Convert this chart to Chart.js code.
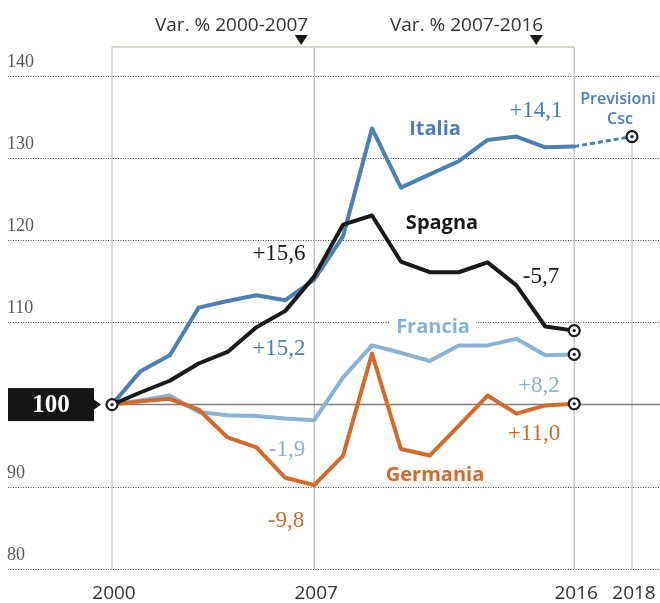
<!DOCTYPE html>
<html>
<head>
<meta charset="utf-8">
<script src="https://cdn.jsdelivr.net/npm/chart.js@4.4.1/dist/chart.umd.min.js"></script>
<style>
  html, body { margin: 0; padding: 0; background: #fff; }
  canvas { display: block; }
</style>
</head>
<body>
<canvas id="chart" width="660" height="603"></canvas>
<script>
// Index 2000 = 100
const years = [2000, 2001, 2002, 2003, 2004, 2005, 2006, 2007, 2008, 2009, 2010, 2011, 2012, 2013, 2014, 2015, 2016];
const italia   = [100, 104.1, 106.0, 111.8, 112.6, 113.3, 112.7, 115.2, 120.5, 133.6, 126.4, 128.0, 129.6, 132.2, 132.6, 131.3, 131.4];
const spagna   = [100, 101.5, 102.9, 105.0, 106.4, 109.4, 111.4, 115.6, 121.9, 123.0, 117.4, 116.1, 116.1, 117.3, 114.5, 109.5, 109.0];
const francia  = [100, 100.5, 101.1, 99.1, 98.7, 98.6, 98.3, 98.1, 103.3, 107.2, 106.3, 105.3, 107.2, 107.2, 108.0, 106.0, 106.1];
const germania = [100, 100.4, 100.7, 99.4, 96.0, 94.8, 91.1, 90.2, 93.8, 106.2, 94.6, 93.8, 97.4, 101.1, 98.9, 99.9, 100.1];

// Previsioni Csc (Italia)
const forecastYears = [2016, 2017, 2018];
const italiaForecast = [131.4, 132.0, 132.6];

const yTicks = [80, 90, 100, 110, 120, 130, 140];
const xTicks = [2000, 2007, 2016, 2018];
const periodYears = [2000, 2007, 2016];
const periodTitles = ['Var. % 2000-2007', 'Var. % 2007-2016'];
const baseValue = 100;

const COLORS = {
  italia: '#4a80b4',
  spagna: '#1a1a1a',
  francia: '#88b2d6',
  germania: '#d4692c'
};

const toPoints = (xs, ys) => xs.map((yr, i) => ({ x: yr, y: ys[i] }));
const lastPoint = (ys) => ({ x: years[years.length - 1], y: ys[ys.length - 1] });

// Text annotations (pixel layout)
const annotations = [
  { text: '+15,6', x: 279, y: 254, color: COLORS.spagna, font: '23px "Liberation Serif"' },
  { text: '+15,2', x: 279, y: 349, color: COLORS.italia, font: '23px "Liberation Serif"' },
  { text: '-1,9', x: 287, y: 450, color: COLORS.francia, font: '23px "Liberation Serif"' },
  { text: '-9,8', x: 286, y: 521, color: COLORS.germania, font: '23px "Liberation Serif"' },
  { text: '+14,1', x: 536, y: 111, color: COLORS.italia, font: '23px "Liberation Serif"' },
  { text: '-5,7', x: 541, y: 277, color: COLORS.spagna, font: '23px "Liberation Serif"' },
  { text: '+8,2', x: 539, y: 386, color: COLORS.francia, font: '23px "Liberation Serif"' },
  { text: '+11,0', x: 534, y: 434, color: COLORS.germania, font: '23px "Liberation Serif"' },
  { text: 'Italia', x: 435, y: 129, color: COLORS.italia, font: 'bold 20px "Open Sans"' },
  { text: 'Spagna', x: 442, y: 223, color: COLORS.spagna, font: 'bold 20px "Open Sans"' },
  { text: 'Francia', x: 433, y: 327, color: COLORS.francia, font: 'bold 20px "Open Sans"', bg: true },
  { text: 'Germania', x: 435, y: 475, color: COLORS.germania, font: 'bold 20px "Open Sans"' },
  { text: 'Previsioni', x: 618, y: 99, color: COLORS.italia, font: '600 16px "Open Sans"' },
  { text: 'Csc', x: 620, y: 119, color: COLORS.italia, font: '600 16px "Open Sans"' }
];

function drawMarker(ctx, px, py) {
  ctx.beginPath();
  ctx.arc(px, py, 5.5, 0, Math.PI * 2);
  ctx.fillStyle = '#fff';
  ctx.fill();
  ctx.lineWidth = 2.2;
  ctx.strokeStyle = '#1a1a1a';
  ctx.stroke();
  ctx.beginPath();
  ctx.arc(px, py, 1.6, 0, Math.PI * 2);
  ctx.fillStyle = '#1a1a1a';
  ctx.fill();
}

const decorPlugin = {
  id: 'decor',
  beforeDatasetsDraw(chart) {
    const { ctx, chartArea, scales: { x, y } } = chart;
    const W = chart.width;
    ctx.save();

    // dotted horizontal grid
    ctx.strokeStyle = '#444';
    ctx.lineWidth = 1;
    ctx.setLineDash([1, 1.5]);
    yTicks.forEach(v => {
      if (v === baseValue) return;
      const py = Math.round(y.getPixelForValue(v)) + 0.5;
      ctx.beginPath();
      ctx.moveTo(8, py);
      ctx.lineTo(W, py);
      ctx.stroke();
    });
    ctx.setLineDash([]);

    // y tick labels
    ctx.font = '18px "Liberation Serif"';
    ctx.fillStyle = '#5a5a5a';
    ctx.textAlign = 'left';
    ctx.textBaseline = 'alphabetic';
    yTicks.forEach(v => {
      if (v === baseValue) return;
      ctx.fillText(String(v), 7, y.getPixelForValue(v) - 9);
    });

    // period frame
    const top = chartArea.top;
    const bottom = y.getPixelForValue(yTicks[0]);
    ctx.strokeStyle = '#cdc8ba';
    ctx.lineWidth = 1.5;
    periodYears.forEach(yr => {
      const px = x.getPixelForValue(yr);
      ctx.beginPath();
      ctx.moveTo(px, top);
      ctx.lineTo(px, bottom);
      ctx.stroke();
    });
    ctx.beginPath();
    ctx.moveTo(x.getPixelForValue(periodYears[0]), top);
    ctx.lineTo(x.getPixelForValue(periodYears[2]), top);
    ctx.stroke();
    const fx = x.getPixelForValue(forecastYears[forecastYears.length - 1]);
    ctx.beginPath();
    ctx.moveTo(fx, y.getPixelForValue(italiaForecast[italiaForecast.length - 1]));
    ctx.lineTo(fx, bottom);
    ctx.stroke();

    // base 100 line
    const by = y.getPixelForValue(baseValue);
    ctx.strokeStyle = '#7d7d7d';
    ctx.lineWidth = 1.5;
    ctx.beginPath();
    ctx.moveTo(x.getPixelForValue(years[0]), by);
    ctx.lineTo(W, by);
    ctx.stroke();

    // white backgrounds behind labels that sit on grid lines
    annotations.filter(a => a.bg).forEach(a => {
      ctx.font = a.font;
      const w = ctx.measureText(a.text).width;
      ctx.fillStyle = '#fff';
      ctx.fillRect(a.x - w / 2 - 6, a.y - 10, w + 12, 20);
    });
    ctx.restore();
  },
  afterDatasetsDraw(chart) {
    const { ctx, scales: { x, y } } = chart;
    ctx.save();

    // annotations
    ctx.textAlign = 'center';
    ctx.textBaseline = 'middle';
    annotations.forEach(a => {
      ctx.font = a.font;
      ctx.fillStyle = a.color;
      ctx.fillText(a.text, a.x, a.y);
    });

    // period titles with triangles
    ctx.font = '19px "Open Sans"';
    ctx.fillStyle = '#333';
    ctx.textAlign = 'right';
    ctx.textBaseline = 'alphabetic';
    const titleRight = [x.getPixelForValue(periodYears[1]) - 6, x.getPixelForValue(periodYears[2]) - 31];
    periodTitles.forEach((t, i) => {
      ctx.fillText(t, titleRight[i], 31);
      const cx = titleRight[i] - 7;
      ctx.beginPath();
      ctx.moveTo(cx - 6.5, 35);
      ctx.lineTo(cx + 6.5, 35);
      ctx.lineTo(cx, 45);
      ctx.closePath();
      ctx.fillStyle = '#1a1a1a';
      ctx.fill();
      ctx.fillStyle = '#333';
    });

    // x tick labels
    ctx.font = '19px "Open Sans"';
    ctx.fillStyle = '#333';
    ctx.textAlign = 'center';
    xTicks.forEach(yr => {
      ctx.fillText(String(yr), x.getPixelForValue(yr) + 2, 599);
    });

    // end markers
    const sx = x.getPixelForValue(years[0]);
    const sy = y.getPixelForValue(baseValue);
    [spagna, francia, germania].forEach(s => {
      const p = lastPoint(s);
      drawMarker(ctx, x.getPixelForValue(p.x), y.getPixelForValue(p.y));
    });
    drawMarker(ctx, x.getPixelForValue(forecastYears[forecastYears.length - 1]),
      y.getPixelForValue(italiaForecast[italiaForecast.length - 1]));

    // 100 box
    ctx.fillStyle = '#161616';
    ctx.fillRect(8, sy - 16.5, 86, 33);
    ctx.beginPath();
    ctx.moveTo(94, sy - 5);
    ctx.lineTo(101, sy);
    ctx.lineTo(94, sy + 5);
    ctx.closePath();
    ctx.fill();
    ctx.fillStyle = '#fff';
    ctx.font = 'bold 25px "Liberation Serif"';
    ctx.textAlign = 'center';
    ctx.textBaseline = 'middle';
    ctx.fillText(String(baseValue), 51, sy + 1);
    drawMarker(ctx, sx, sy);

    ctx.restore();
  }
};

const lineDefaults = {
  borderWidth: 4,
  pointRadius: 0,
  tension: 0,
  fill: false,
  borderJoinStyle: 'round',
  borderCapStyle: 'round'
};

new Chart(document.getElementById('chart'), {
  type: 'line',
  data: {
    datasets: [
      { ...lineDefaults, label: 'Spagna', data: toPoints(years, spagna), borderColor: COLORS.spagna, order: 0 },
      { ...lineDefaults, label: 'Germania', data: toPoints(years, germania), borderColor: COLORS.germania, order: 1 },
      { ...lineDefaults, label: 'Italia', data: toPoints(years, italia), borderColor: COLORS.italia, order: 2 },
      { ...lineDefaults, label: 'Italia previsioni', data: toPoints(forecastYears, italiaForecast),
        borderColor: COLORS.italia, borderWidth: 3, borderDash: [5, 3], borderCapStyle: 'butt', order: 2 },
      { ...lineDefaults, label: 'Francia', data: toPoints(years, francia), borderColor: COLORS.francia, order: 3 }
    ]
  },
  options: {
    responsive: false,
    devicePixelRatio: 1,
    animation: false,
    layout: { padding: { left: 112, right: 28, top: 47, bottom: 34 } },
    plugins: {
      legend: { display: false },
      tooltip: { enabled: false }
    },
    scales: {
      x: { type: 'linear', min: 2000, max: 2018, display: false },
      y: { min: 80, max: 143.5, display: false }
    }
  },
  plugins: [decorPlugin]
});
</script>
</body>
</html>
